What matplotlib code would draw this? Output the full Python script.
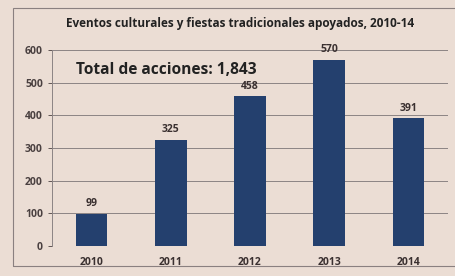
import matplotlib.pyplot as plt
from matplotlib.patches import Rectangle

years = ["2010", "2011", "2012", "2013", "2014"]
acciones = [99, 325, 458, 570, 391]
yticks = [0, 100, 200, 300, 400, 500, 600]
title = "Eventos culturales y fiestas tradicionales apoyados, 2010-14"
total_label = "Total de acciones: 1,843"

bg = "#ebddd4"
bar_color = "#24406e"
text_color = "#3a3030"

plt.rcParams["font.family"] = ["Open Sans", "DejaVu Sans"]

fig = plt.figure(figsize=(4.55, 2.76), dpi=100, facecolor=bg)
# outer chart frame like the slide
fig.patches.append(Rectangle((13 / 455, 10 / 276), 450 / 455, 258 / 276,
                             transform=fig.transFigure, fill=False,
                             edgecolor="#8a8080", linewidth=0.8))

ax = fig.add_axes([52 / 455, 30 / 276, 396 / 455, 196 / 276])
ax.set_facecolor(bg)

x = range(len(years))
bars = ax.bar(x, acciones, width=0.4, color=bar_color, zorder=3)
for i, v in enumerate(acciones):
    ax.text(i, v + 14, str(v), ha="center", va="bottom", fontsize=7.5,
            fontweight="bold", color=text_color)

ax.set_ylim(0, 600)
ax.set_xlim(-0.5, len(years) - 0.5)
ax.set_yticks(yticks)
ax.set_xticks(list(x))
ax.set_xticklabels(years, fontsize=7.5, fontweight="bold", color=text_color)
ax.tick_params(axis="y", labelsize=7.5, colors="#4a4040", length=3, width=0.6)
ax.tick_params(axis="x", length=0, pad=8)
for lbl in ax.get_yticklabels():
    lbl.set_fontweight("bold")
ax.grid(axis="y", color="#8c8484", linewidth=0.7, zorder=0)
for side in ["top", "right", "bottom"]:
    ax.spines[side].set_visible(False)
ax.spines["left"].set_color("#8c8484")
ax.spines["left"].set_linewidth(0.7)

ax.text(0.06, 0.90, total_label, transform=ax.transAxes, fontsize=11.2,
        fontweight="bold", color="#222222", va="center")
fig.text(0.527, 0.915, title, ha="center", va="center", fontsize=8.5,
         fontweight="bold", color="#222222")

fig.savefig("out.png", dpi=100, facecolor=bg)
